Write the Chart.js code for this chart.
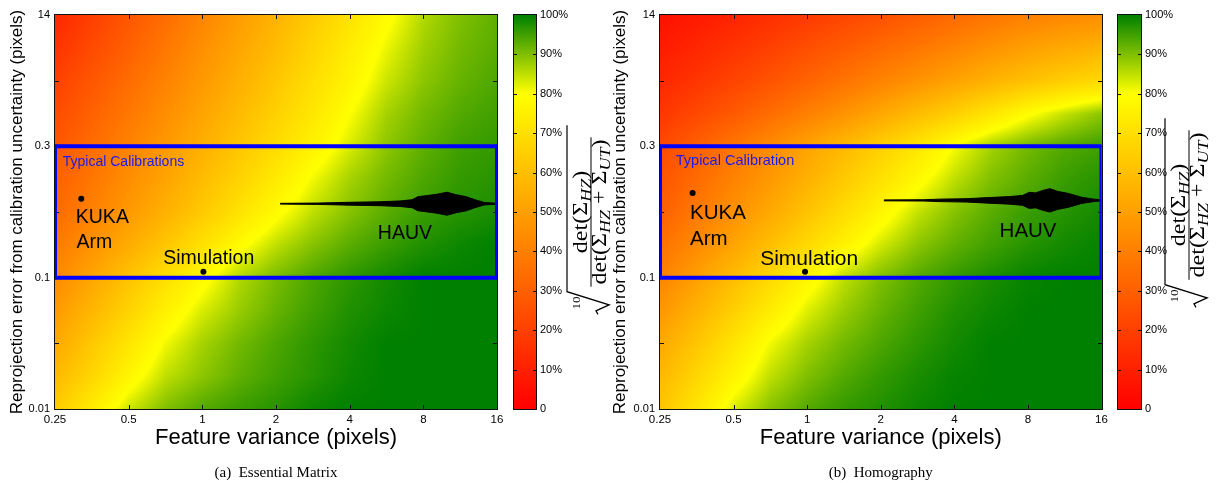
<!DOCTYPE html>
<html>
<head>
<meta charset="utf-8">
<title>Calibration uncertainty maps</title>
<script src="https://cdn.jsdelivr.net/npm/chart.js@4.4.1/dist/chart.umd.min.js"></script>
<style>
  html, body { margin: 0; padding: 0; background: #fff; }
  #wrap { position: relative; width: 1218px; height: 483px; overflow: hidden; }
  #wrap canvas { position: absolute; top: 0; }
</style>
</head>
<body>
<div id="wrap">
  <canvas id="mainA" width="609" height="483" style="left:0"></canvas>
  <canvas id="mainB" width="613" height="483" style="left:605px"></canvas>
  <canvas id="barA" width="112" height="483" style="left:500px"></canvas>
  <canvas id="barB" width="114" height="483" style="left:1104px"></canvas>
</div>
<script>
const X_TICKS = [0.25, 0.5, 1, 2, 4, 8, 16];
// y axis is not uniform in the source figure: one slot per tick
const Y_TICK_LABELS = ['0.01', '', '0.1', '', '0.3', '', '14'];
const CB_TICKS = [0, 10, 20, 30, 40, 50, 60, 70, 80, 90, 100];

const GRID_X = [0.25, 0.3536, 0.5, 0.7071, 1, 1.414, 2, 2.828, 4, 5.657, 8, 11.31, 16];
const GRID_Y = [0, 0.5, 1, 1.5, 2, 2.5, 3, 3.5, 4, 4.5, 5, 5.5, 6];

// rows bottom -> top
const SCORE_A = [
  [64, 74, 84, 90, 93.5, 95.5, 97, 99, 100, 100, 100, 100, 100],
  [58, 67, 77, 85, 89, 92.5, 95, 97, 99, 100, 100, 100, 100],
  [53, 62.5, 72, 81, 87, 91, 94, 96.5, 98.5, 100, 100, 100, 100],
  [48, 57, 66, 75.5, 83, 88, 92, 95, 97.5, 99, 100, 100, 100],
  [43, 52, 61, 70, 78, 86, 90.5, 94, 96.5, 98.5, 100, 100, 100],
  [38, 46, 54, 62, 70.5, 78.5, 85, 89.5, 93, 95.5, 97.5, 99, 100],
  [33, 40.5, 48, 55.5, 63, 71, 78.5, 85, 89.5, 93, 95.5, 97, 98],
  [30, 37, 44.5, 51.5, 59, 66, 73.5, 81, 87, 91, 94, 96, 97],
  [27, 34, 41, 48, 55, 62, 69, 76, 83, 89, 92.5, 95, 96],
  [23.5, 30.5, 37.5, 44.5, 51.5, 58.5, 65.5, 72.5, 80, 87, 91, 93.5, 95],
  [20, 27, 34, 41, 48, 55, 62, 69.5, 76.5, 84, 89, 92, 94],
  [16, 23, 30, 37.5, 45, 52, 59, 66.5, 74, 81.5, 87.5, 91, 93],
  [12, 19.5, 27, 34, 41.5, 49, 56, 63.5, 71, 78.5, 86, 90, 92.5]
];

const SCORE_B = [
  [62, 72, 83, 89.5, 93.5, 96, 97.5, 99, 100, 100, 100, 100, 100],
  [57.5, 67, 76.5, 85, 90, 93.5, 96, 98, 99.5, 100, 100, 100, 100],
  [53, 62, 71.5, 81, 87, 91, 94, 96.5, 98.5, 100, 100, 100, 100],
  [47, 56, 65, 74, 82.5, 88, 92, 95, 97.5, 99, 100, 100, 100],
  [41, 50, 59, 68, 77, 85, 90, 93.5, 96, 98, 99.5, 100, 100],
  [35.5, 43.5, 51.5, 60, 68, 76, 83.5, 89, 92.5, 95, 97, 98.5, 99.5],
  [30, 38, 45.5, 53, 61, 69, 77, 84.5, 89.5, 93, 95.5, 97, 98.5],
  [26.5, 33.5, 41, 48, 55.5, 63, 70.5, 78, 85, 90, 93, 95.5, 97],
  [23, 30, 37, 44, 51, 58, 65, 72, 80.5, 87, 91, 93.5, 95],
  [17, 22.5, 28, 34, 40, 46, 52.5, 59, 65, 72, 79, 84.5, 89],
  [12, 16.5, 21, 26, 31, 36, 41, 46, 51, 56, 60.5, 64.5, 68],
  [8.5, 12, 16, 20, 24.5, 28.5, 33, 37, 41.5, 46, 50, 53, 56],
  [5, 8, 11, 14.5, 18, 21.5, 25, 29, 33, 36.5, 40, 42.5, 44]
];

// "Typical Calibrations" box: 0.1 .. 0.3 px
const BOX_X = [0.25, 16];
const BOX_Y = [2, 4];

const SITES_A_X = [0.32, 1.01];
const SITES_A_Y = [3.2, 2.09];
const SITES_B_X = [0.34, 0.98];
const SITES_B_Y = [3.29, 2.09];

// HAUV spread, upper and lower envelope
const HAUV_A_X = [2.08, 2.94, 4.0, 5.33, 6.42, 7.2, 7.6, 8.2, 9.1, 10.0, 10.9, 12.0, 13.0, 14.2, 16];
const HAUV_A_TOP = [3.132, 3.136, 3.148, 3.156, 3.168, 3.187, 3.233, 3.248, 3.271, 3.301, 3.263, 3.233, 3.187, 3.145, 3.133];
const HAUV_A_BOTTOM = [3.120, 3.116, 3.104, 3.096, 3.084, 3.065, 3.019, 3.004, 2.981, 2.951, 2.989, 3.019, 3.065, 3.107, 3.119];

const HAUV_B_X = [2.06, 3.0, 3.49, 4.51, 5.49, 6.76, 7.6, 8.1, 8.6, 9.2, 9.85, 10.6, 11.67, 13.3, 14.9, 16];
const HAUV_B_TOP = [3.184, 3.187, 3.196, 3.203, 3.219, 3.235, 3.253, 3.299, 3.291, 3.329, 3.355, 3.314, 3.284, 3.223, 3.196, 3.186];
const HAUV_B_BOTTOM = [3.170, 3.167, 3.158, 3.151, 3.135, 3.119, 3.101, 3.055, 3.063, 3.025, 2.999, 3.040, 3.070, 3.131, 3.158, 3.168];

const SANS = '"Liberation Sans", Arial, Helvetica, sans-serif';
const SERIF = '"Liberation Serif", "Times New Roman", serif';
const BLUE = '#0000ff';

Chart.defaults.font.family = SANS;
Chart.defaults.color = '#000';

function scoreColor(v) {
  if (v <= 80) return [255, Math.round(255 * Math.max(0, v) / 80), 0];
  const t = Math.min(1, (v - 80) / 20);
  return [Math.round(255 * (1 - t)), Math.round(255 - 127 * t), 0];
}

const LOG_GX = GRID_X.map(v => Math.log2(v));

function locate(arr, v) {
  let i = 0;
  while (i < arr.length - 2 && v > arr[i + 1]) i++;
  const t = (v - arr[i]) / (arr[i + 1] - arr[i]);
  return [i, Math.max(0, Math.min(1, t))];
}

function sampleScore(grid, xv, yv) {
  const [i, tx] = locate(LOG_GX, Math.log2(xv));
  const [j, ty] = locate(GRID_Y, yv);
  const lo = grid[j][i] * (1 - tx) + grid[j][i + 1] * tx;
  const hi = grid[j + 1][i] * (1 - tx) + grid[j + 1][i + 1] * tx;
  return lo * (1 - ty) + hi * ty;
}

const heatmapPlugin = {
  id: 'heatmap',
  beforeDatasetsDraw(chart, args, opts) {
    const { ctx, chartArea: a, scales: { x, y } } = chart;
    const left = Math.round(a.left), top = Math.round(a.top);
    const w = Math.round(a.right) - left, h = Math.round(a.bottom) - top;
    const img = ctx.createImageData(w, h);
    const xs = [];
    for (let i = 0; i < w; i++) xs.push(x.getValueForPixel(left + i + 0.5));
    for (let j = 0; j < h; j++) {
      const yv = y.getValueForPixel(top + j + 0.5);
      for (let i = 0; i < w; i++) {
        const c = scoreColor(sampleScore(opts.grid, xs[i], yv));
        const k = (j * w + i) * 4;
        img.data[k] = c[0]; img.data[k + 1] = c[1]; img.data[k + 2] = c[2]; img.data[k + 3] = 255;
      }
    }
    ctx.putImageData(img, left, top);

    // frame and inward ticks
    ctx.save();
    ctx.strokeStyle = '#111';
    ctx.lineWidth = 1;
    ctx.strokeRect(left - 0.5, top - 0.5, w + 1, h + 1);
    ctx.beginPath();
    X_TICKS.slice(1, -1).forEach(v => {
      const px = Math.round(x.getPixelForValue(v)) + 0.5;
      ctx.moveTo(px, top); ctx.lineTo(px, top + 4);
      ctx.moveTo(px, top + h); ctx.lineTo(px, top + h - 4);
    });
    [1, 2, 3, 4, 5].forEach(v => {
      const py = Math.round(y.getPixelForValue(v)) + 0.5;
      ctx.moveTo(left, py); ctx.lineTo(left + 4, py);
      ctx.moveTo(left + w, py); ctx.lineTo(left + w - 4, py);
    });
    ctx.stroke();
    ctx.restore();
  }
};

const notesPlugin = {
  id: 'notes',
  afterDatasetsDraw(chart, args, opts) {
    const { ctx, scales: { x, y } } = chart;
    ctx.save();
    ctx.textBaseline = 'alphabetic';
    opts.items.forEach(n => {
      ctx.font = n.size + 'px ' + SANS;
      ctx.fillStyle = n.color || '#000';
      ctx.textAlign = n.align;
      ctx.fillText(n.text, x.getPixelForValue(n.x), y.getPixelForValue(n.y));
    });
    ctx.restore();
  },
  afterDraw(chart, args, opts) {
    const { ctx, chartArea: a } = chart;
    ctx.save();
    ctx.font = '15px ' + SERIF;
    ctx.fillStyle = '#000';
    ctx.textAlign = 'center';
    ctx.textBaseline = 'alphabetic';
    ctx.fillText(opts.caption, (a.left + a.right) / 2, 477);
    ctx.restore();
  }
};

function buildPanel(id, p) {
  const box = [
    { x: BOX_X[0], y: BOX_Y[0] }, { x: BOX_X[1], y: BOX_Y[0] },
    { x: BOX_X[1], y: BOX_Y[1] }, { x: BOX_X[0], y: BOX_Y[1] },
    { x: BOX_X[0], y: BOX_Y[0] }
  ];
  return new Chart(document.getElementById(id), {
    type: 'scatter',
    data: {
      datasets: [
        { data: box, showLine: true, borderColor: BLUE, borderWidth: 4, pointRadius: 0, borderJoinStyle: 'miter' },
        { data: p.hauvX.map((v, i) => ({ x: v, y: p.hauvTop[i] })), showLine: true, fill: '+1',
          backgroundColor: '#000', borderColor: '#000', borderWidth: 1, pointRadius: 0 },
        { data: p.hauvX.map((v, i) => ({ x: v, y: p.hauvBottom[i] })), showLine: true,
          borderColor: '#000', borderWidth: 1, pointRadius: 0 },
        { data: p.sitesX.map((v, i) => ({ x: v, y: p.sitesY[i] })), pointRadius: 3,
          pointBackgroundColor: '#000', pointBorderWidth: 0 }
      ]
    },
    options: {
      responsive: false,
      animation: false,
      events: [],
      layout: { padding: { top: 15, right: p.padRight, bottom: 0, left: 0 } },
      plugins: {
        legend: { display: false },
        tooltip: { enabled: false },
        heatmap: { grid: p.grid },
        notes: { items: p.notes, caption: p.caption }
      },
      scales: {
        x: {
          type: 'logarithmic', min: 0.25, max: 16,
          afterBuildTicks: s => { s.ticks = X_TICKS.map(v => ({ value: v })); },
          afterFit: s => { s.height = 74; },
          grid: { display: false, drawTicks: false },
          border: { display: false },
          ticks: { autoSkip: false, maxRotation: 0, padding: 4, font: { size: 11.5 }, callback: v => String(v) },
          title: { display: true, text: 'Feature variance (pixels)', font: { size: 22 }, padding: { top: 0, bottom: 32 } }
        },
        y: {
          type: 'linear', min: 0, max: 6,
          afterBuildTicks: s => { s.ticks = Y_TICK_LABELS.map((t, i) => ({ value: i })); },
          afterFit: s => { s.width = 55; },
          grid: { display: false, drawTicks: false },
          border: { display: false },
          ticks: { autoSkip: false, padding: 5, font: { size: 11 }, callback: v => Y_TICK_LABELS[v] || '' },
          title: { display: true, text: 'Reprojection error from calibration uncertainty (pixels)',
            font: { size: 17 }, padding: { top: p.yTitlePad, bottom: 0 } }
        }
      }
    },
    plugins: [heatmapPlugin, notesPlugin]
  });
}

function drawRatio(ctx, cx, cy) {
  const main = '20px ' + SERIF;
  const sub = 'italic 15px ' + SERIF;
  const num = [['det(', main, 0], ['\u03A3', main, 0], ['HZ', sub, 4], [')', main, 0]];
  const den = [['det(', main, 0], ['\u03A3', main, 0], ['HZ', sub, 4], [' + ', main, 0],
    ['\u03A3', main, 0], ['UT', sub, 4], [')', main, 0]];
  const widthOf = parts => parts.reduce((w, q) => { ctx.font = q[1]; return w + ctx.measureText(q[0]).width; }, 0);
  const put = (parts, base) => {
    let px = -widthOf(parts) / 2;
    parts.forEach(q => {
      ctx.font = q[1];
      ctx.fillText(q[0], px, base + q[2]);
      px += ctx.measureText(q[0]).width;
    });
  };
  ctx.save();
  ctx.translate(cx, cy);
  ctx.rotate(-Math.PI / 2);
  ctx.scale(1.2, 1);
  ctx.fillStyle = '#000';
  ctx.strokeStyle = '#000';
  ctx.textAlign = 'left';
  ctx.textBaseline = 'alphabetic';
  const wd = widthOf(den);
  put(num, -4);
  put(den, 15);
  ctx.lineWidth = 1;
  ctx.beginPath();
  ctx.moveTo(-wd / 2 - 2, 0);
  ctx.lineTo(wd / 2 + 2, 0);
  ctx.stroke();
  const x0 = -wd / 2 - 6;
  ctx.lineWidth = 1.2;
  ctx.beginPath();
  ctx.moveTo(wd / 2 + 12, -24);
  ctx.lineTo(x0, -24);
  ctx.lineTo(x0 - 11, 18);
  ctx.lineTo(x0 - 16, 5);
  ctx.lineTo(x0 - 19, 7);
  ctx.stroke();
  ctx.font = '11px ' + SERIF;
  ctx.textAlign = 'right';
  ctx.fillText('10', x0 - 4, -11);
  ctx.restore();
}

const colorbarPlugin = {
  id: 'cbframe',
  afterDatasetsDraw(chart, args, opts) {
    const { ctx, chartArea: a, scales: { y } } = chart;
    ctx.save();
    ctx.strokeStyle = '#111';
    ctx.lineWidth = 1;
    ctx.strokeRect(Math.round(a.left) - 0.5, Math.round(a.top) - 0.5,
      Math.round(a.right - a.left) + 1, Math.round(a.bottom - a.top) + 1);
    ctx.beginPath();
    CB_TICKS.slice(1, -1).forEach(v => {
      const py = Math.round(y.getPixelForValue(v)) + 0.5;
      ctx.moveTo(a.left, py); ctx.lineTo(a.left + 3, py);
      ctx.moveTo(a.right, py); ctx.lineTo(a.right - 3, py);
    });
    ctx.stroke();
    ctx.restore();
    drawRatio(ctx, a.right + opts.mathDx, opts.mathY);
  }
};

function barGradient(chart) {
  const a = chart.chartArea;
  if (!a) return '#ffaa00';
  const g = chart.ctx.createLinearGradient(0, a.bottom, 0, a.top);
  g.addColorStop(0, 'rgb(255,0,0)');
  g.addColorStop(0.8, 'rgb(255,255,0)');
  g.addColorStop(1, 'rgb(0,128,0)');
  return g;
}

function buildColorbar(id, c) {
  return new Chart(document.getElementById(id), {
    type: 'bar',
    data: {
      labels: ['score'],
      datasets: [{ data: [[0, 100]], backgroundColor: ctx => barGradient(ctx.chart), borderWidth: 0,
        barPercentage: 1, categoryPercentage: 1 }]
    },
    options: {
      responsive: false,
      animation: false,
      events: [],
      layout: { padding: { left: 14, top: 15, right: 0, bottom: 74 } },
      plugins: {
        legend: { display: false },
        tooltip: { enabled: false },
        cbframe: { mathDx: c.mathDx, mathY: c.mathY }
      },
      scales: {
        x: { display: false },
        y: {
          position: 'right', min: 0, max: 100,
          afterBuildTicks: s => { s.ticks = CB_TICKS.map(v => ({ value: v })); },
          afterFit: s => { s.width = c.axisWidth; },
          grid: { display: false, drawTicks: false },
          border: { display: false },
          ticks: { padding: 4, font: { size: 11 }, callback: v => (v === 0 ? '0' : v + '%') }
        }
      }
    },
    plugins: [colorbarPlugin]
  });
}

buildPanel('mainA', {
  grid: SCORE_A, padRight: 112, yTitlePad: 7, caption: '(a)  Essential Matrix',
  hauvX: HAUV_A_X, hauvTop: HAUV_A_TOP, hauvBottom: HAUV_A_BOTTOM,
  sitesX: SITES_A_X, sitesY: SITES_A_Y,
  notes: [
    { text: 'Typical Calibrations', x: 0.269, y: 3.70, align: 'left', size: 14, color: '#1a1af0' },
    { text: 'KUKA', x: 0.304, y: 2.834, align: 'left', size: 19.5 },
    { text: 'Arm', x: 0.306, y: 2.452, align: 'left', size: 19.5 },
    { text: 'Simulation', x: 1.062, y: 2.213, align: 'center', size: 19.5 },
    { text: 'HAUV', x: 6.73, y: 2.589, align: 'center', size: 19.5 }
  ]
});

buildPanel('mainB', {
  grid: SCORE_B, padRight: 116.5, yTitlePad: 5, caption: '(b)  Homography',
  hauvX: HAUV_B_X, hauvTop: HAUV_B_TOP, hauvBottom: HAUV_B_BOTTOM,
  sitesX: SITES_B_X, sitesY: SITES_B_Y,
  notes: [
    { text: 'Typical Calibration', x: 0.29, y: 3.72, align: 'left', size: 14.5, color: '#1a1af0' },
    { text: 'KUKA', x: 0.332, y: 2.893, align: 'left', size: 20.5 },
    { text: 'Arm', x: 0.332, y: 2.502, align: 'left', size: 20.5 },
    { text: 'Simulation', x: 1.019, y: 2.197, align: 'center', size: 21 },
    { text: 'HAUV', x: 8.01, y: 2.619, align: 'center', size: 20.5 }
  ]
});

buildColorbar('barA', { axisWidth: 76, mathDx: 55, mathY: 212 });
buildColorbar('barB', { axisWidth: 77, mathDx: 48, mathY: 205 });
</script>
</body>
</html>
